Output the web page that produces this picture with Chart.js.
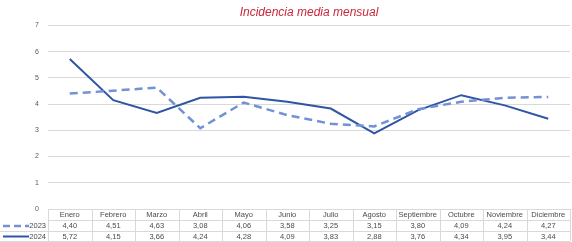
<!DOCTYPE html>
<html>
<head>
<meta charset="utf-8">
<script src="https://cdn.jsdelivr.net/npm/chart.js@4.4.1/dist/chart.umd.min.js"></script>
<style>
  html, body { margin: 0; padding: 0; background: #fff; }
  #wrap { width: 572px; height: 242px; }
</style>
</head>
<body>
<div id="wrap"><canvas id="linea"></canvas></div>
<script>
// datos
const meses = ['Enero', 'Febrero', 'Marzo', 'Abril', 'Mayo', 'Junio', 'Julio', 'Agosto', 'Septiembre', 'Octubre', 'Noviembre', 'Diciembre'];
const datos2023 = [4.40, 4.51, 4.63, 3.08, 4.06, 3.58, 3.25, 3.15, 3.80, 4.09, 4.24, 4.27];
const datos2024 = [5.72, 4.15, 3.66, 4.24, 4.28, 4.09, 3.83, 2.88, 3.76, 4.34, 3.95, 3.44];
const ticksY = [0, 1, 2, 3, 4, 5, 6, 7];

const color2023 = '#7391d4';
const color2024 = '#2f55a3';
const gris = '#d9d9d9';
const texto = '#4a4a4a';

const fmt = v => v.toFixed(2).replace('.', ',');

// tabla de datos debajo del gráfico (como en Excel)
const tablaDatos = {
  id: 'tablaDatos',
  afterDraw(chart) {
    const ctx = chart.ctx;
    const area = chart.chartArea;
    const xs = chart.scales.x;
    const colW = (area.right - area.left) / meses.length;
    const y0 = area.bottom, y1 = y0 + 11, y2 = y1 + 11, y3 = y2 + 10;

    ctx.save();
    ctx.strokeStyle = gris;
    ctx.lineWidth = 1;
    ctx.beginPath();
    for (let i = 0; i <= meses.length; i++) {
      const x = Math.round(area.left + i * colW) + 0.5;
      ctx.moveTo(x, y0);
      ctx.lineTo(x, y3);
    }
    ctx.moveTo(area.left, y1 + 0.5); ctx.lineTo(area.right, y1 + 0.5);
    ctx.moveTo(0, y2 + 0.5); ctx.lineTo(area.right, y2 + 0.5);
    ctx.moveTo(0, y3 + 0.5); ctx.lineTo(area.right, y3 + 0.5);
    ctx.stroke();

    ctx.font = '7.5px "Liberation Sans", Arial, sans-serif';
    ctx.fillStyle = texto;
    ctx.textAlign = 'center';
    ctx.textBaseline = 'middle';
    meses.forEach((m, i) => {
      const x = xs.getPixelForValue(i);
      ctx.fillText(m, x, (y0 + y1) / 2 + 0.5);
      ctx.fillText(fmt(datos2023[i]), x, (y1 + y2) / 2 + 0.5);
      ctx.fillText(fmt(datos2024[i]), x, (y2 + y3) / 2 + 0.5);
    });

    // claves de la leyenda
    ctx.textAlign = 'right';
    ctx.fillText('2023', area.left - 2, (y1 + y2) / 2 + 0.5);
    ctx.fillText('2024', area.left - 2, (y2 + y3) / 2 + 0.5);

    ctx.lineWidth = 2.5;
    ctx.strokeStyle = color2023;
    ctx.setLineDash([7, 4]);
    ctx.beginPath();
    ctx.moveTo(3, (y1 + y2) / 2 + 0.5); ctx.lineTo(29, (y1 + y2) / 2 + 0.5);
    ctx.stroke();
    ctx.setLineDash([]);
    ctx.lineWidth = 2;
    ctx.strokeStyle = color2024;
    ctx.beginPath();
    ctx.moveTo(3, (y2 + y3) / 2 + 0.5); ctx.lineTo(29, (y2 + y3) / 2 + 0.5);
    ctx.stroke();
    ctx.restore();
  }
};

new Chart(document.getElementById('linea'), {
  type: 'line',
  data: {
    labels: meses,
    datasets: [{
      label: '2023',
      data: datos2023,
      borderColor: color2023,
      borderWidth: 2.5,
      borderDash: [8, 5],
      pointRadius: 0,
      tension: 0
    }, {
      label: '2024',
      data: datos2024,
      borderColor: color2024,
      borderWidth: 2,
      pointRadius: 0,
      tension: 0
    }]
  },
  options: {
    responsive: true,
    maintainAspectRatio: false,
    animation: false,
    layout: { padding: { left: 0, right: 2, top: 0, bottom: 33 } },
    plugins: {
      legend: { display: false },
      tooltip: { enabled: false },
      title: {
        display: true,
        fullSize: false,
        text: 'Incidencia media mensual',
        color: '#c8283c',
        font: { family: '"Liberation Sans", Arial, sans-serif', size: 12, style: 'italic', weight: 'normal' },
        padding: { top: 5, bottom: 6 }
      }
    },
    scales: {
      x: {
        display: false,
        offset: true
      },
      y: {
        min: 0,
        max: 7,
        afterBuildTicks: s => { s.ticks = ticksY.map(v => ({ value: v })); },
        afterFit: s => { s.width = 48; },
        border: { display: false },
        grid: { color: gris, drawTicks: false },
        ticks: {
          color: '#595959',
          font: { family: '"Liberation Sans", Arial, sans-serif', size: 7 },
          padding: 9
        }
      }
    }
  },
  plugins: [tablaDatos]
});
</script>
</body>
</html>
